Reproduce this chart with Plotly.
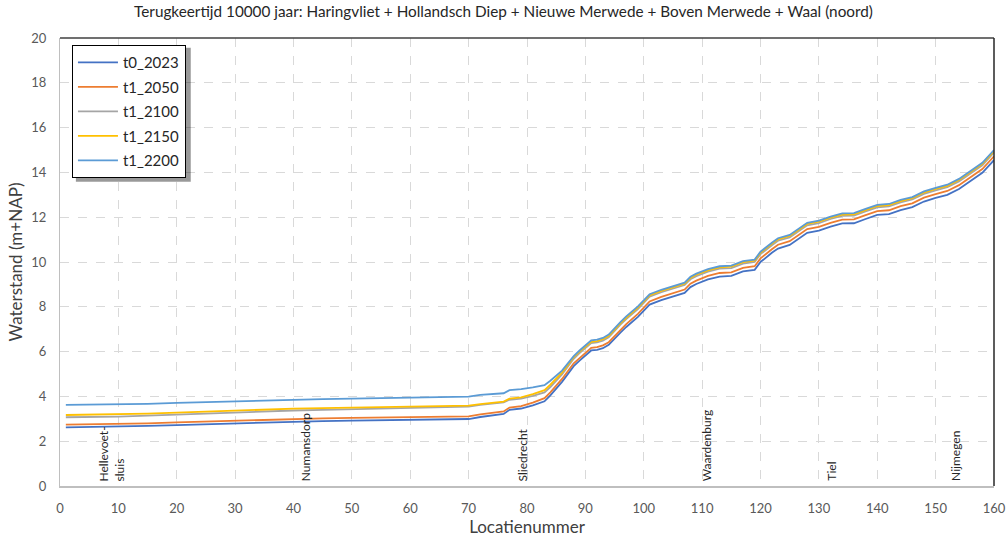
import plotly.graph_objects as go

# Location numbers along the river axis
locaties = [1, 5, 10, 15, 20, 25, 30, 35, 40, 45, 50, 55, 60, 62, 65, 70, 72, 74, 76, 77,
            79, 81, 83, 84, 86, 88, 89, 91, 92, 93, 94, 96, 97, 99, 101, 103, 105, 107, 108, 109,
            111, 113, 115, 117, 119, 120, 122, 123, 125, 127, 128, 130, 132, 134, 136, 138, 140, 142, 144, 146,
            148, 150, 152, 154, 156, 158, 160]

t0_2023 = [2.62, 2.63, 2.65, 2.68, 2.72, 2.76, 2.80, 2.84, 2.88, 2.90, 2.92, 2.94, 2.95, 2.96, 2.98, 2.99, 3.08, 3.15, 3.22, 3.40,
           3.46, 3.60, 3.78, 4.05, 4.65, 5.35, 5.60, 6.05, 6.08, 6.15, 6.30, 6.85, 7.10, 7.55, 8.10, 8.30, 8.45, 8.62, 8.88, 9.02,
           9.22, 9.35, 9.38, 9.58, 9.65, 10.00, 10.42, 10.60, 10.76, 11.12, 11.30, 11.40, 11.58, 11.72, 11.73, 11.92, 12.10, 12.14, 12.32, 12.45,
           12.70, 12.86, 13.00, 13.26, 13.62, 13.98, 14.55]

t1_2050 = [2.74, 2.75, 2.77, 2.80, 2.84, 2.88, 2.92, 2.96, 3.00, 3.02, 3.04, 3.06, 3.07, 3.09, 3.10, 3.11, 3.20, 3.27, 3.33, 3.50,
           3.57, 3.72, 3.92, 4.18, 4.78, 5.48, 5.72, 6.17, 6.20, 6.28, 6.42, 6.98, 7.23, 7.68, 8.24, 8.44, 8.59, 8.77, 9.03, 9.17,
           9.38, 9.51, 9.54, 9.74, 9.81, 10.16, 10.58, 10.77, 10.93, 11.29, 11.47, 11.57, 11.75, 11.89, 11.90, 12.09, 12.27, 12.31, 12.49, 12.62,
           12.87, 13.03, 13.17, 13.43, 13.79, 14.15, 14.72]

t1_2100 = [3.07, 3.08, 3.10, 3.14, 3.19, 3.24, 3.29, 3.33, 3.37, 3.40, 3.43, 3.45, 3.47, 3.50, 3.52, 3.54, 3.62, 3.68, 3.73, 3.85,
           3.90, 4.02, 4.18, 4.42, 4.98, 5.68, 5.93, 6.38, 6.41, 6.49, 6.64, 7.20, 7.45, 7.90, 8.45, 8.65, 8.80, 8.97, 9.23, 9.37,
           9.57, 9.70, 9.73, 9.93, 10.00, 10.35, 10.76, 10.95, 11.10, 11.46, 11.64, 11.74, 11.92, 12.06, 12.07, 12.26, 12.44, 12.48, 12.66, 12.79,
           13.04, 13.20, 13.34, 13.60, 13.96, 14.32, 14.89]

t1_2150 = [3.17, 3.18, 3.20, 3.23, 3.28, 3.33, 3.37, 3.41, 3.45, 3.48, 3.50, 3.52, 3.54, 3.56, 3.58, 3.59, 3.66, 3.72, 3.77, 3.90,
           3.96, 4.10, 4.28, 4.52, 5.06, 5.75, 6.00, 6.44, 6.47, 6.55, 6.70, 7.26, 7.51, 7.96, 8.51, 8.71, 8.86, 9.03, 9.29, 9.43,
           9.63, 9.76, 9.79, 9.99, 10.06, 10.41, 10.82, 11.01, 11.16, 11.52, 11.70, 11.80, 11.98, 12.12, 12.13, 12.32, 12.50, 12.54, 12.72, 12.85,
           13.10, 13.26, 13.40, 13.66, 14.02, 14.38, 14.95]

t1_2200 = [3.62, 3.63, 3.65, 3.67, 3.71, 3.75, 3.79, 3.82, 3.86, 3.88, 3.90, 3.92, 3.94, 3.96, 3.98, 3.99, 4.07, 4.10, 4.14, 4.28,
           4.32, 4.40, 4.50, 4.70, 5.15, 5.80, 6.05, 6.50, 6.53, 6.61, 6.76, 7.32, 7.57, 8.02, 8.56, 8.76, 8.91, 9.08, 9.34, 9.48,
           9.68, 9.81, 9.84, 10.04, 10.11, 10.46, 10.87, 11.06, 11.21, 11.57, 11.75, 11.85, 12.03, 12.17, 12.18, 12.37, 12.55, 12.59, 12.77, 12.90,
           13.15, 13.31, 13.45, 13.71, 14.07, 14.43, 15.00]

reeks_namen = ["t0_2023", "t1_2050", "t1_2100", "t1_2150", "t1_2200"]
reeks_kleuren = ["#4472C4", "#ED7D31", "#A5A5A5", "#FFC000", "#5B9BD5"]

# Named places along the river
plaats_namen = ["Hellevoet-<br>sluis", "Numansdorp", "Sliedrecht", "Waardenburg", "Tiel", "Nijmegen"]
plaats_locaties = [8.9, 42.0, 79.3, 110.8, 132.1, 153.3]

x_ticks = list(range(0, 161, 10))
y_ticks = list(range(0, 21, 2))

FONT = "Lato"

fig = go.Figure()
series = [t0_2023, t1_2050, t1_2100, t1_2150, t1_2200]
# draw the highest scenario last so it sits on top
for naam, kleur, waarden in zip(reeks_namen, reeks_kleuren, series):
    fig.add_trace(go.Scatter(
        x=locaties, y=waarden, mode="lines", name=naam,
        legendgroup=naam,
        line=dict(color=kleur, width=1.8),
    ))

for naam, loc in zip(plaats_namen, plaats_locaties):
    fig.add_annotation(
        x=loc, y=0, xref="x", yref="y", text=naam, textangle=-90,
        showarrow=False, xanchor="center", yanchor="bottom", yshift=3,
        align="left", font=dict(family=FONT, size=12, color="#262626"),
    )

# top and right frame of the plot area
fig.add_shape(type="line", xref="paper", yref="paper", x0=0, x1=1, y0=1, y1=1,
              line=dict(color="#404040", width=1.5))
fig.add_shape(type="line", xref="paper", yref="paper", x0=1, x1=1, y0=0, y1=1,
              line=dict(color="#262626", width=1.5))

# legend drop shadow
fig.add_shape(type="rect", xref="paper", yref="paper",
              x0=0.017, x1=0.140, y0=0.679, y1=0.978,
              line=dict(width=0), fillcolor="rgba(0,0,0,0.4)", layer="above")

fig.update_layout(
    width=1007, height=539,
    margin=dict(l=60, r=13, t=38, b=53),
    paper_bgcolor="white", plot_bgcolor="white",
    title=dict(text="Terugkeertijd 10000 jaar: Haringvliet + Hollandsch Diep + Nieuwe Merwede + Boven Merwede + Waal (noord)",
               x=0.5, xanchor="center", y=0.978, yanchor="middle",
               font=dict(family=FONT, size=15.3, color="#262626")),
    font=dict(family=FONT, color="#595959"),
    showlegend=True,
    legend=dict(x=0.0128, y=0.984, xanchor="left", yanchor="top",
                bgcolor="white", bordercolor="#000000", borderwidth=1,
                font=dict(family=FONT, size=15, color="#262626"),
                tracegroupgap=2, traceorder="grouped", itemwidth=40),
    xaxis=dict(range=[0, 160], tickvals=x_ticks, ticktext=[str(v) for v in x_ticks],
               showgrid=True, gridcolor="#D9D9D9", griddash="dash", gridwidth=1,
               zeroline=False, showline=True, linecolor="#BFBFBF", linewidth=1.5,
               ticks="", ticklabelstandoff=10, automargin=False,
               tickfont=dict(family=FONT, size=13, color="#595959"),
               title=dict(text="Locatienummer", font=dict(family=FONT, size=17, color="#404040"), standoff=6)),
    yaxis=dict(range=[0, 20], tickvals=y_ticks, ticktext=[str(v) for v in y_ticks],
               showgrid=True, gridcolor="#D9D9D9", griddash="dash", gridwidth=1,
               zeroline=False, showline=True, linecolor="#BFBFBF", linewidth=1,
               ticks="", ticklabelstandoff=10, automargin=False,
               tickfont=dict(family=FONT, size=13, color="#595959"),
               title=dict(text="Waterstand (m+NAP)", font=dict(family=FONT, size=17, color="#404040"), standoff=4)),
)

fig.write_html("out.html")
